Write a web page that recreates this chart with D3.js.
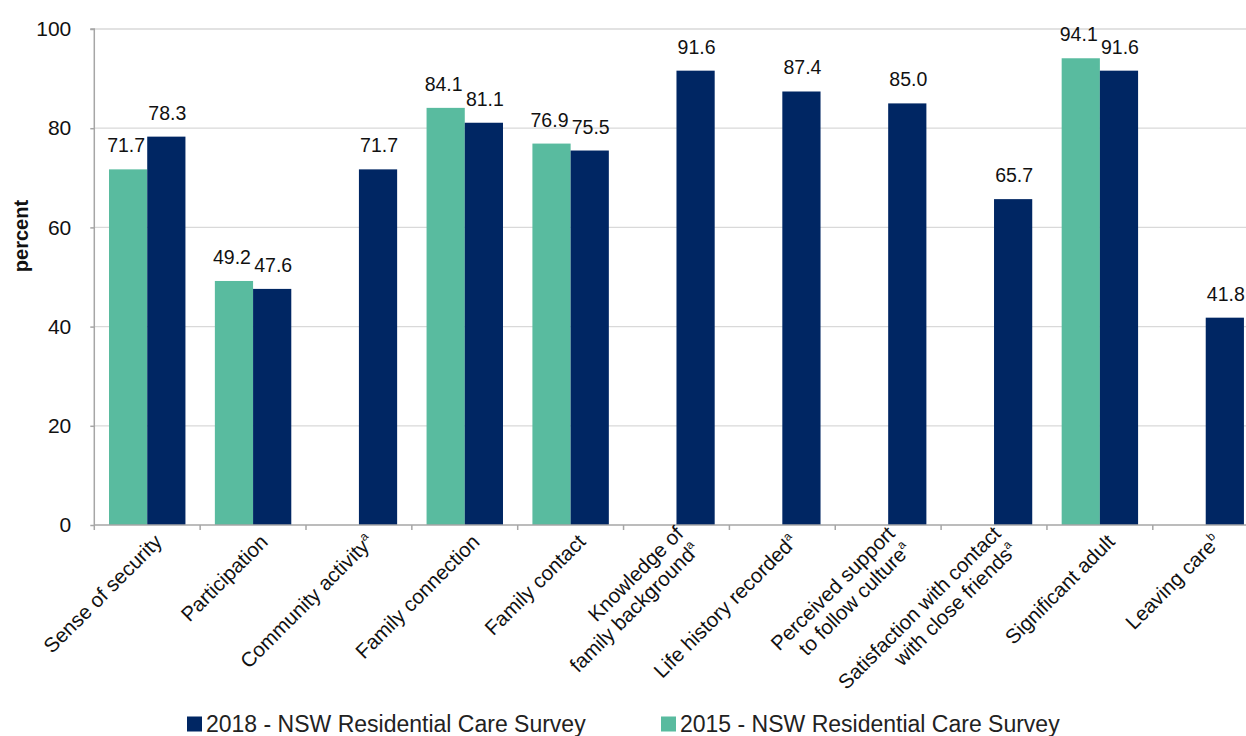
<!DOCTYPE html>
<html>
<head>
<meta charset="utf-8">
<script src="https://cdn.jsdelivr.net/npm/d3@7"></script>
<style>
  html, body { margin: 0; padding: 0; background: #fff; }
  svg { display: block; font-family: "Liberation Sans", Arial, Helvetica, sans-serif; }
</style>
</head>
<body>
<svg id="chart" width="1246" height="736"></svg>
<script>
// ---- data ----
const categories = [
  "Sense of security",
  "Participation",
  "Community activity",
  "Family connection",
  "Family contact",
  "Knowledge of\nfamily background",
  "Life history recorded",
  "Perceived support\nto follow culture",
  "Satisfaction with contact\nwith close friends",
  "Significant adult",
  "Leaving care"
];
const notes = ["", "", "a", "", "", "a", "a", "a", "a", "", "b"];
const values2015 = [71.7, 49.2, null, 84.1, 76.9, null, null, null, null, 94.1, null];
const values2018 = [78.3, 47.6, 71.7, 81.1, 75.5, 91.6, 87.4, 85.0, 65.7, 91.6, 41.8];
const seriesNames = ["2015 - NSW Residential Care Survey", "2018 - NSW Residential Care Survey"];
const seriesKeys = ["2015", "2018"];
const legendOrder = ["2018", "2015"];
const yTicks = [0, 20, 40, 60, 80, 100];

const colors = { "2015": "#59bb9f", "2018": "#002663" };

const svg = d3.select("#chart");
const mLeft = 94.3, mTop = 29, mBottom = 525;
const catW = 105.85;
const mRight = mLeft + catW * categories.length;

const x0 = d3.scaleBand().domain(d3.range(categories.length)).range([mLeft, mRight]).paddingInner(0).paddingOuter(0);
const bw = x0.bandwidth();
const x1 = d3.scaleBand().domain(seriesKeys).range([bw * 0.139, bw * 0.861]).padding(0);
const y = d3.scaleLinear().domain([0, 100]).range([mBottom, mTop]);

// gridlines
svg.append("g").selectAll("line").data(yTicks.filter(d => d > 0)).join("line")
  .attr("x1", mLeft).attr("x2", mRight)
  .attr("y1", d => y(d)).attr("y2", d => y(d))
  .attr("stroke", "#d9d9d9").attr("stroke-width", 1.3);

// y axis
const yAxis = d3.axisLeft(y).tickValues(yTicks).tickSize(4).tickPadding(19).tickFormat(d3.format("d"));
const gy = svg.append("g").attr("transform", `translate(${mLeft},0)`).call(yAxis);
gy.select(".domain").attr("stroke", "#a6a6a6").attr("stroke-width", 1.5).attr("d", `M-4,${mTop}H0V${mBottom}`);
gy.selectAll(".tick line").attr("stroke", "#a6a6a6").attr("stroke-width", 1.5);
gy.selectAll(".tick text").attr("font-size", 21).attr("fill", "#111").attr("font-family", "Liberation Sans, Arial, sans-serif");

// bars
const rows = categories.map((c, i) => ({ i, v: { "2015": values2015[i], "2018": values2018[i] } }));
const groups = svg.append("g").selectAll("g").data(rows).join("g")
  .attr("transform", d => `translate(${x0(d.i)},0)`);
groups.selectAll("rect").data(d => seriesKeys.filter(k => d.v[k] != null).map(k => ({ k, v: d.v[k] }))).join("rect")
  .attr("x", d => x1(d.k)).attr("width", x1.bandwidth())
  .attr("y", d => y(d.v)).attr("height", d => y(0) - y(d.v))
  .attr("fill", d => colors[d.k]);
groups.selectAll("text").data(d => seriesKeys.filter(k => d.v[k] != null).map(k => ({ k, v: d.v[k] }))).join("text")
  .attr("x", d => x1(d.k) + x1.bandwidth() / 2 + (d.k === "2015" ? -2 : 1))
  .attr("y", d => y(d.v) - 17)
  .attr("text-anchor", "middle")
  .attr("font-size", 19.5).attr("fill", "#111")
  .text(d => d3.format(".1f")(d.v));

// x axis line & ticks
svg.append("line").attr("x1", mLeft).attr("x2", mRight).attr("y1", mBottom).attr("y2", mBottom)
  .attr("stroke", "#a6a6a6").attr("stroke-width", 1.5);
svg.append("g").selectAll("line").data(d3.range(categories.length + 1)).join("line")
  .attr("x1", i => mLeft + i * bw).attr("x2", i => mLeft + i * bw)
  .attr("y1", mBottom).attr("y2", mBottom + 5)
  .attr("stroke", "#a6a6a6").attr("stroke-width", 1.5);

// category labels
const labFs = 20.5, lineH = 23;
categories.forEach((c, i) => {
  const lines = c.split("\n");
  const cx = x0(i) + bw / 2;
  const g = svg.append("g").attr("transform", `translate(${cx + 11},${mBottom + 13}) rotate(-45)`);
  const n = lines.length;
  lines.forEach((ln, j) => {
    const t = g.append("text").attr("text-anchor", "end")
      .attr("font-size", labFs).attr("fill", "#111")
      .attr("x", 0).attr("y", (j - (n - 1) / 2) * lineH).attr("dy", "0.35em");
    t.append("tspan").text(ln);
    if (j === n - 1 && notes[i]) {
      t.append("tspan").attr("font-size", 12).attr("dy", "-0.7em").text(notes[i]);
    }
  });
});

// y axis title
svg.append("text").attr("transform", `translate(28,236) rotate(-90)`)
  .attr("text-anchor", "middle").attr("font-size", 20).attr("font-weight", "bold").attr("fill", "#111")
  .text("percent");

// legend
const legX = [187, 661];
legendOrder.forEach((k, j) => {
  const g = svg.append("g").attr("transform", `translate(${legX[j]},0)`);
  g.append("rect").attr("x", 0).attr("y", 716.5).attr("width", 15).attr("height", 15).attr("fill", colors[k]);
  g.append("text").attr("x", 19).attr("y", 731.5).attr("font-size", 23).attr("fill", "#222")
    .text(seriesNames[seriesKeys.indexOf(k)]);
});
</script>
</body>
</html>
